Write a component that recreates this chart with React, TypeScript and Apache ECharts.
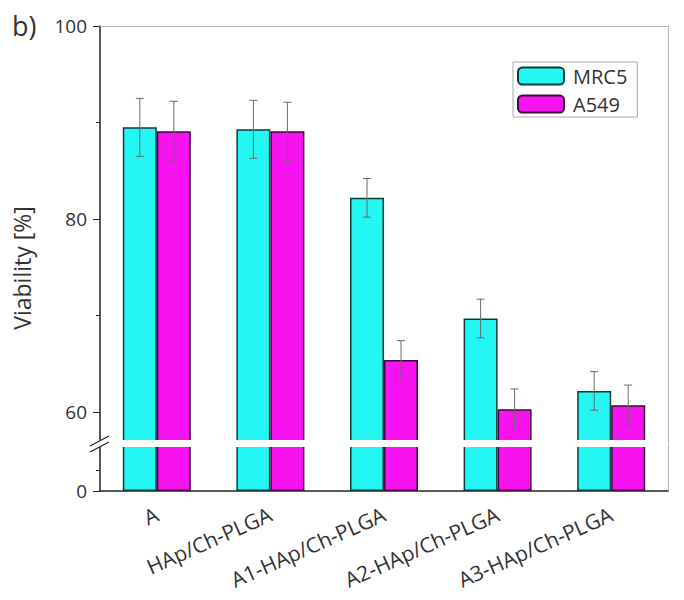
import React, { useEffect, useRef } from "react";
import * as echarts from "echarts";

const categories = ["A", "HAp/Ch-PLGA", "A1-HAp/Ch-PLGA", "A2-HAp/Ch-PLGA", "A3-HAp/Ch-PLGA"];
const seriesNames = ["MRC5", "A549"];
const mrc5 = [89.5, 89.3, 82.2, 69.7, 62.2];
const mrc5Err = [3.0, 3.0, 2.0, 2.0, 2.0];
const a549 = [89.1, 89.1, 65.4, 60.3, 60.7];
const a549Err = [3.1, 3.0, 2.0, 2.1, 2.1];
const upperLabels = [60, 80, 100];
const upperMinorTicks = [70, 90];
const lowerLabels = [0];
const lowerMinorTicks = [2.2];

const FONT = "Open Sans";
const BAR_W = 34;
const COLORS = ["#24f6f3", "#f712f0"];
const BORDERS = ["#0f3b3b", "#3e0a3c"];

function errorSeries(vals: number[], errs: number[], offset: number) {
  return {
    type: "custom",
    xAxisIndex: 0,
    yAxisIndex: 0,
    z: 5,
    silent: true,
    clip: false,
    encode: { x: 0, y: 1 },
    data: vals.map((v, i) => [i, v, errs[i]]),
    renderItem: (params: any, api: any) => {
      const i = api.value(0);
      const v = api.value(1);
      const e = api.value(2);
      const top = api.coord([i, v + e]);
      const bot = api.coord([i, v - e]);
      const x = top[0] + offset;
      const st = { stroke: "#6a6a6a", lineWidth: 1 };
      return {
        type: "group",
        children: [
          { type: "line", shape: { x1: x, y1: top[1], x2: x, y2: bot[1] }, style: st },
          { type: "line", shape: { x1: x - 4, y1: top[1], x2: x + 4, y2: top[1] }, style: st },
          { type: "line", shape: { x1: x - 4, y1: bot[1], x2: x + 4, y2: bot[1] }, style: st },
        ],
      };
    },
  };
}

function barSeries(k: number, data: number[], axisIndex: number) {
  return {
    name: seriesNames[k],
    type: "bar",
    xAxisIndex: axisIndex,
    yAxisIndex: axisIndex,
    data,
    barWidth: BAR_W,
    barGap: "0%",
    clip: true,
    itemStyle: { color: COLORS[k], borderColor: BORDERS[k], borderWidth: 1.5 },
  };
}

const axisDark = { color: "#222" };
const frameGray = "#b5b5b5";

export default function App() {
  const ref = useRef<HTMLDivElement>(null);
  useEffect(() => {
    if (!ref.current) return;
    const chart = echarts.init(ref.current, null, { renderer: "svg" });
    chart.setOption({
      animation: false,
      grid: [
        { left: 100, right: 16, top: 26, bottom: 157 },
        { left: 100, right: 16, top: 445, bottom: 109 },
      ],
      legend: {
        data: seriesNames,
        left: 513,
        top: 62,
        orient: "vertical",
        itemWidth: 46,
        itemHeight: 17,
        itemGap: 6,
        padding: [3, 10, 2, 4],
        borderColor: "#a8a8a8",
        borderWidth: 1,
        textStyle: { fontFamily: FONT, fontSize: 20, lineHeight: 22, color: "#333", padding: [0, 0, 0, 4] },
      },
      xAxis: [
        {
          type: "category",
          gridIndex: 0,
          data: categories,
          position: "top",
          axisLine: { show: true, lineStyle: { color: frameGray, width: 1 } },
          axisTick: { show: false },
          axisLabel: { show: false },
        },
        {
          type: "category",
          gridIndex: 1,
          data: categories,
          position: "bottom",
          axisLine: { lineStyle: { color: "#222", width: 1.5 } },
          axisTick: { alignWithLabel: true, length: 8, lineStyle: axisDark },
          axisLabel: {
            rotate: 24,
            margin: 22,
            fontFamily: FONT,
            fontSize: 21,
            color: "#333",
            interval: 0,
          },
        },
        {
          type: "category",
          gridIndex: 1,
          data: categories,
          position: "bottom",
          axisLine: { show: false },
          axisTick: { length: 4, lineStyle: axisDark },
          axisLabel: { show: false },
        },
      ],
      yAxis: [
        {
          type: "value",
          gridIndex: 0,
          min: 56.8,
          max: 100,
          position: "left",
          axisLine: { show: true, lineStyle: { color: "#222", width: 1.5 } },
          axisTick: { show: true, length: 7, customValues: upperLabels, lineStyle: axisDark },
          axisLabel: { customValues: upperLabels, fontFamily: FONT, fontSize: 19, color: "#333", margin: 13 },
          splitLine: { show: false },
        },
        {
          type: "value",
          gridIndex: 1,
          min: 0,
          max: 4.8,
          position: "left",
          axisLine: { show: true, lineStyle: { color: "#222", width: 1.5 } },
          axisTick: { show: true, length: 7, customValues: lowerLabels, lineStyle: axisDark },
          axisLabel: { customValues: lowerLabels, fontFamily: FONT, fontSize: 19, color: "#333", margin: 13 },
          splitLine: { show: false },
        },
        {
          type: "value",
          gridIndex: 0,
          min: 56.8,
          max: 100,
          position: "left",
          axisLine: { show: false },
          axisTick: { show: true, length: 4, customValues: upperMinorTicks, lineStyle: axisDark },
          axisLabel: { show: false },
          splitLine: { show: false },
        },
        {
          type: "value",
          gridIndex: 1,
          min: 0,
          max: 4.8,
          position: "left",
          axisLine: { show: false },
          axisTick: { show: true, length: 4, customValues: lowerMinorTicks, lineStyle: axisDark },
          axisLabel: { show: false },
          splitLine: { show: false },
        },
        {
          type: "value",
          gridIndex: 0,
          min: 56.8,
          max: 100,
          position: "right",
          axisLine: { show: true, lineStyle: { color: frameGray, width: 1 } },
          axisTick: { show: false },
          axisLabel: { show: false },
          splitLine: { show: false },
        },
        {
          type: "value",
          gridIndex: 1,
          min: 0,
          max: 4.8,
          position: "right",
          axisLine: { show: true, lineStyle: { color: frameGray, width: 1 } },
          axisTick: { show: false },
          axisLabel: { show: false },
          splitLine: { show: false },
        },
      ],
      series: [
        barSeries(0, mrc5, 0),
        barSeries(1, a549, 0),
        barSeries(0, mrc5, 1),
        barSeries(1, a549, 1),
        errorSeries(mrc5, mrc5Err, -BAR_W / 2),
        errorSeries(a549, a549Err, BAR_W / 2),
      ],
      graphic: [
        {
          type: "text",
          left: 12,
          top: 12,
          style: { text: "b)", fontFamily: FONT, fontSize: 27, fill: "#333" },
        },
        {
          type: "text",
          x: 22,
          y: 268,
          rotation: Math.PI / 2,
          style: {
            text: "Viability [%]",
            fontFamily: FONT,
            fontSize: 23,
            fill: "#333",
            align: "center",
            verticalAlign: "middle",
          },
        },
        {
          type: "rect",
          z: 99,
          shape: { x: 97, y: 440, width: 570, height: 7 },
          style: { fill: "#ffffff" },
        },
        {
          type: "line",
          z: 100,
          shape: { x1: 90, y1: 446, x2: 109, y2: 436 },
          style: { stroke: "#222", lineWidth: 1.3 },
        },
        {
          type: "line",
          z: 100,
          shape: { x1: 90, y1: 452, x2: 109, y2: 442 },
          style: { stroke: "#222", lineWidth: 1.3 },
        },
      ],
    });
    return () => chart.dispose();
  }, []);
  return (
    <div
      ref={ref}
      style={{ position: "absolute", left: 0, top: 0, width: 684, height: 600 }}
    />
  );
}
